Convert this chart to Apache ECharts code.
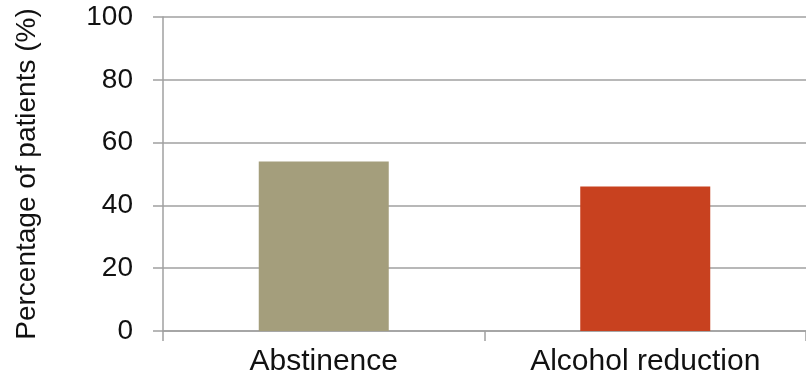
<!DOCTYPE html>
<html>
<head>
<meta charset="utf-8">
<script src="https://cdn.jsdelivr.net/npm/echarts@6/dist/echarts.min.js"></script>
<style>
  html, body { margin: 0; padding: 0; background: #ffffff; }
  #chart { width: 806px; height: 380px; }
</style>
</head>
<body>
<div id="chart"></div>
<script>
// Outcome goals reported by patients
const categories = ['Abstinence', 'Alcohol reduction'];
const percentages = [54, 46];
const barColors = ['#A49E7C', '#C8411F'];
const yTicks = { min: 0, max: 100, interval: 20 };
const yTitle = 'Percentage of patients (%)';

const chart = echarts.init(document.getElementById('chart'), null, { renderer: 'canvas' });

const font = 'Liberation Sans, Arial, sans-serif';
const axisGray = '#a0a0a0';
const textColor = '#111111';

chart.setOption({
  animation: false,
  backgroundColor: '#ffffff',
  grid: { left: 163, top: 17, width: 646, height: 314, containLabel: false },
  xAxis: {
    type: 'category',
    data: categories,
    axisLine: { show: true, lineStyle: { color: axisGray, width: 1.5 } },
    axisTick: { show: true, length: 10, lineStyle: { color: axisGray, width: 1.5 } },
    axisLabel: { fontSize: 30, fontFamily: font, color: textColor, margin: 16 }
  },
  yAxis: {
    type: 'value',
    min: yTicks.min,
    max: yTicks.max,
    interval: yTicks.interval,
    name: yTitle,
    nameLocation: 'middle',
    nameGap: 122,
    nameTextStyle: { fontSize: 28, fontFamily: font, color: textColor },
    axisLine: { show: true, lineStyle: { color: axisGray, width: 1.5 } },
    axisTick: { show: true, length: 10, lineStyle: { color: axisGray, width: 1.5 } },
    axisLabel: { fontSize: 28, fontFamily: font, color: textColor, margin: 30 },
    splitLine: { show: true, lineStyle: { color: axisGray, width: 1.5 } }
  },
  series: [{
    type: 'bar',
    barWidth: 130,
    data: percentages.map((v, i) => ({ value: v, itemStyle: { color: barColors[i] } }))
  }]
});
</script>
</body>
</html>
